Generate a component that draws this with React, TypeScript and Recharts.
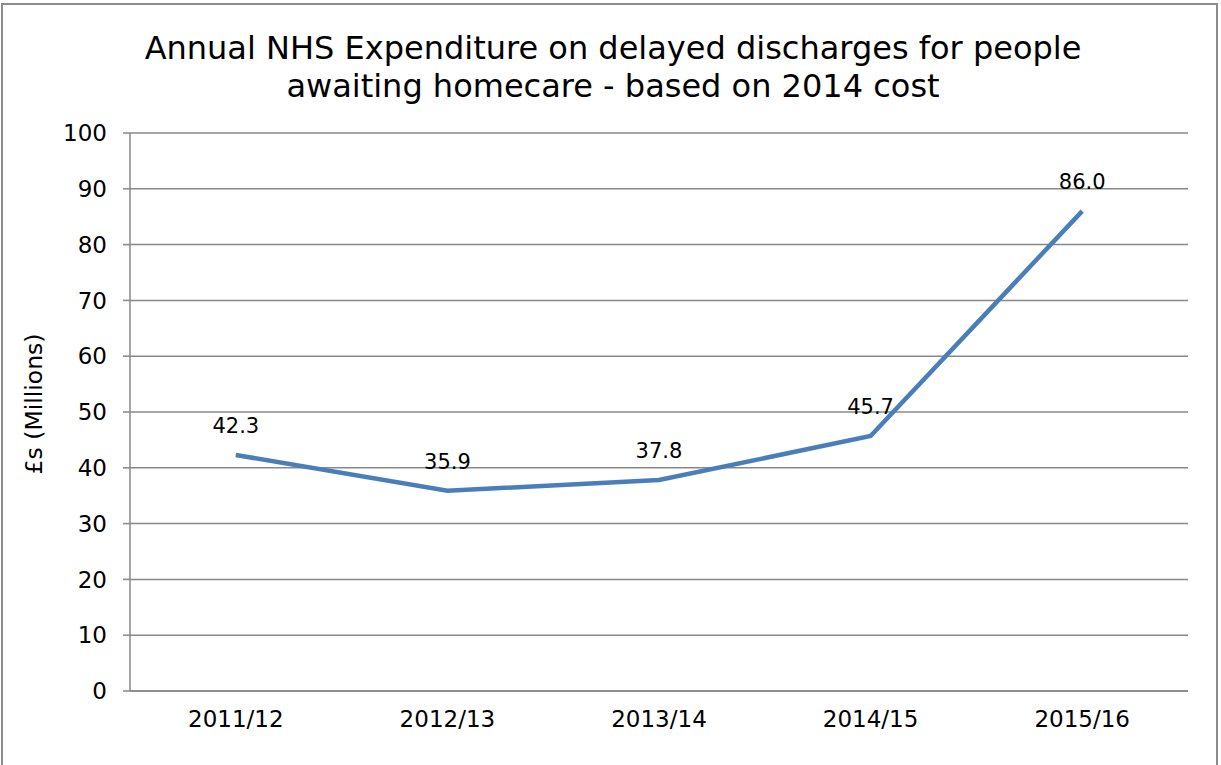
import React from 'react';
import { LineChart, Line, XAxis, YAxis, CartesianGrid, LabelList } from 'recharts';

const years = ['2011/12', '2012/13', '2013/14', '2014/15', '2015/16'];
const spend = [42.3, 35.9, 37.8, 45.7, 86.0];
const yTicks = [0, 10, 20, 30, 40, 50, 60, 70, 80, 90, 100];
const bandEdges = [0, 1, 2, 3, 4, 5];
const bandMids = [0.5, 1.5, 2.5, 3.5, 4.5];

const data = years.map((year, i) => ({ pos: i + 0.5, year, value: spend[i] }));

const FONT = '"DejaVu Sans", Verdana, sans-serif';
const AXIS = '#888888';

const App: React.FC = () => {
  return (
    <div style={{ position: 'absolute', left: 0, top: 0, width: 1221, height: 765, fontFamily: FONT }}>
      <div style={{ position: 'absolute', left: 1, top: 3, width: 1217, height: 770, border: '2px solid #8c8c8c', boxSizing: 'border-box' }} />
      <LineChart width={1221} height={765} data={data} margin={{ top: 133, right: 33, left: 70, bottom: 30 }}>
        <text x={613} y={59} textAnchor="middle" fontSize={32} fontFamily={FONT} fill="#000">
          Annual NHS Expenditure on delayed discharges for people
        </text>
        <text x={613} y={97} textAnchor="middle" fontSize={32} fontFamily={FONT} fill="#000">
          awaiting homecare - based on 2014 cost
        </text>
        <text x={42} y={404} textAnchor="middle" fontSize={23.5} fontFamily={FONT} fill="#000" transform="rotate(-90, 42, 404)">
          £s (Millions)
        </text>
        <CartesianGrid vertical={false} stroke={AXIS} strokeWidth={1.5} />
        <XAxis
          dataKey="pos"
          type="number"
          domain={[0, 5]}
          ticks={bandEdges}
          tick={false}
          tickSize={7}
          height={8}
          stroke={AXIS}
          strokeWidth={1.5}
        />
        <XAxis
          xAxisId="labels"
          dataKey="pos"
          type="number"
          domain={[0, 5]}
          ticks={bandMids}
          tickFormatter={(v: number) => years[Math.floor(v)]}
          axisLine={false}
          tickLine={false}
          height={36}
          tick={{ fill: '#000', fontSize: 23, fontFamily: FONT, dy: 4 }}
        />
        <YAxis
          type="number"
          domain={[0, 100]}
          ticks={yTicks}
          width={60}
          tickSize={7}
          stroke={AXIS}
          strokeWidth={1.5}
          tick={{ fill: '#000', fontSize: 23, fontFamily: FONT, dx: -14 }}
        />
        <Line
          dataKey="value"
          stroke="#4a7ebb"
          strokeWidth={4.5}
          dot={false}
          isAnimationActive={false}
        >
          <LabelList
            dataKey="value"
            position="top"
            offset={22}
            formatter={(v: number) => v.toFixed(1)}
            style={{ fill: '#000', fontSize: 21, fontFamily: FONT }}
          />
        </Line>
      </LineChart>
    </div>
  );
};

export default App;
